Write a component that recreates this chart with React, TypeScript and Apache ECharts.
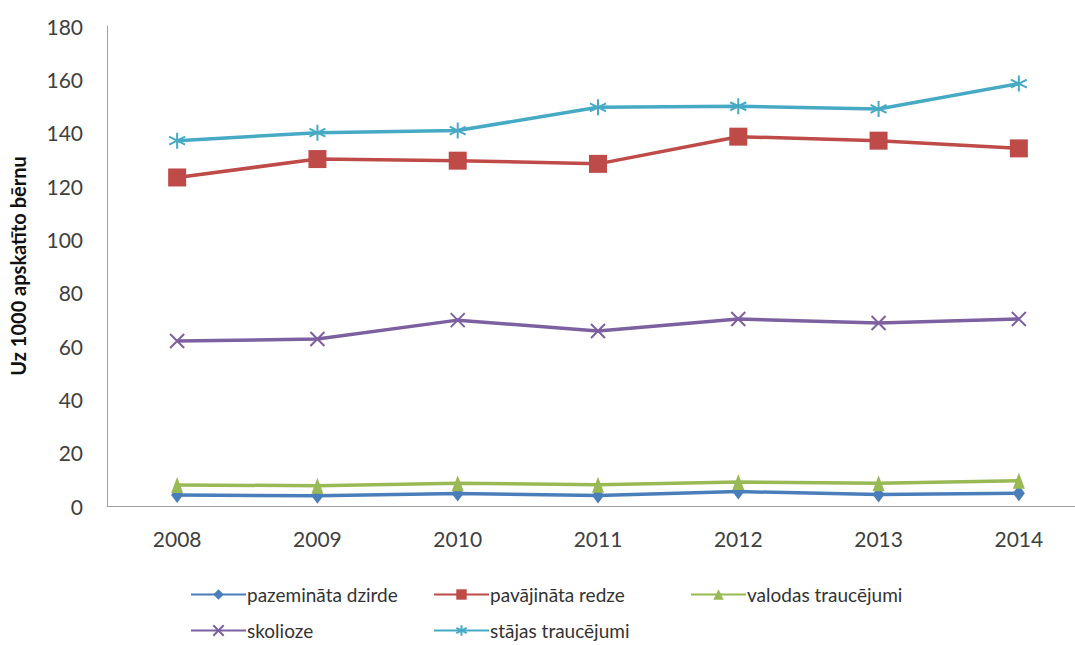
import React, { useEffect, useRef } from "react";
import * as echarts from "echarts";

const years = ["2008", "2009", "2010", "2011", "2012", "2013", "2014"];
const dzirde = [4.1, 3.8, 4.7, 3.9, 5.4, 4.3, 4.8];
const redze = [123.2, 130.1, 129.5, 128.3, 138.5, 137.0, 134.1];
const valoda = [7.9, 7.6, 8.5, 8.0, 9.0, 8.5, 9.5];
const skolioze = [61.9, 62.6, 69.7, 65.6, 70.1, 68.6, 70.1];
const staja = [137.0, 140.0, 140.8, 149.5, 149.9, 148.9, 158.4];
const yTicks = { min: 0, max: 180, interval: 20 };

const names = [
  "pazemināta dzirde",
  "pavājināta redze",
  "valodas traucējumi",
  "skolioze",
  "stājas traucējumi",
];
const colors = ["#4A7EBB", "#BE4B48", "#98B954", "#7D60A0", "#46AAC5"];

const X_PATH = "path://M0,0L10,10M10,0L0,10";
const STAR_PATH = "path://M5,0L5,10M0.7,2.5L9.3,7.5M9.3,2.5L0.7,7.5";

export default function App() {
  const ref = useRef<HTMLDivElement>(null);
  useEffect(() => {
    const chart = echarts.init(ref.current!, null, { renderer: "svg" });
    const font = "Lato, 'Open Sans', sans-serif";
    const mk = (i: number, data: number[], symbol: string, size: any, stroke = false) => ({
      name: names[i],
      type: "line",
      data,
      symbol,
      symbolSize: size,
      lineStyle: { color: colors[i], width: 3.5 },
      itemStyle: stroke
        ? { color: colors[i], borderColor: colors[i], borderWidth: 2 }
        : { color: colors[i] },
      z: 2 + i,
    });
    const legendPos = [
      [190, 585],
      [433, 585],
      [690, 585],
      [190, 621],
      [433, 621],
    ];
    chart.setOption({
      animation: false,
      textStyle: { fontFamily: font },
      grid: { left: 107, top: 26, width: 982, height: 480, containLabel: false },
      xAxis: {
        type: "category",
        data: years,
        boundaryGap: true,
        axisLine: { lineStyle: { color: "#A0A0A0", width: 1 } },
        axisTick: { show: false },
        axisLabel: { color: "#404040", fontSize: 21, margin: 22, fontFamily: font },
      },
      yAxis: {
        type: "value",
        min: yTicks.min,
        max: yTicks.max,
        interval: yTicks.interval,
        name: "Uz 1000 apskatīto bērnu",
        nameLocation: "middle",
        nameGap: 79,
        nameRotate: 90,
        nameTextStyle: { fontSize: 20, fontWeight: "bold", color: "#111", fontFamily: font },
        axisLine: { show: true, lineStyle: { color: "#A0A0A0", width: 1 } },
        axisTick: { show: false },
        splitLine: { show: false },
        axisLabel: { color: "#404040", fontSize: 21, margin: 24, fontFamily: font },
      },
      legend: names.map((n, i) => ({
        data: [n],
        left: legendPos[i][0],
        top: legendPos[i][1],
        padding: 0,
        itemWidth: 55,
        itemHeight: 13,
        itemGap: 0,
        textStyle: { fontSize: 19, color: "#333", fontFamily: font, padding: [0, 0, 0, -4] },
      })),
      series: [
        mk(0, dzirde, "diamond", [12, 16]),
        mk(1, redze, "rect", 18),
        mk(2, valoda, "triangle", [12, 16]),
        mk(3, skolioze, X_PATH, 14, true),
        mk(4, staja, STAR_PATH, 16, true),
      ],
    });
    return () => chart.dispose();
  }, []);
  return (
    <div style={{ position: "absolute", left: 0, top: 0, width: 1075, height: 645, overflow: "hidden" }}>
      <div ref={ref} style={{ width: 1100, height: 645 }} />
    </div>
  );
}
